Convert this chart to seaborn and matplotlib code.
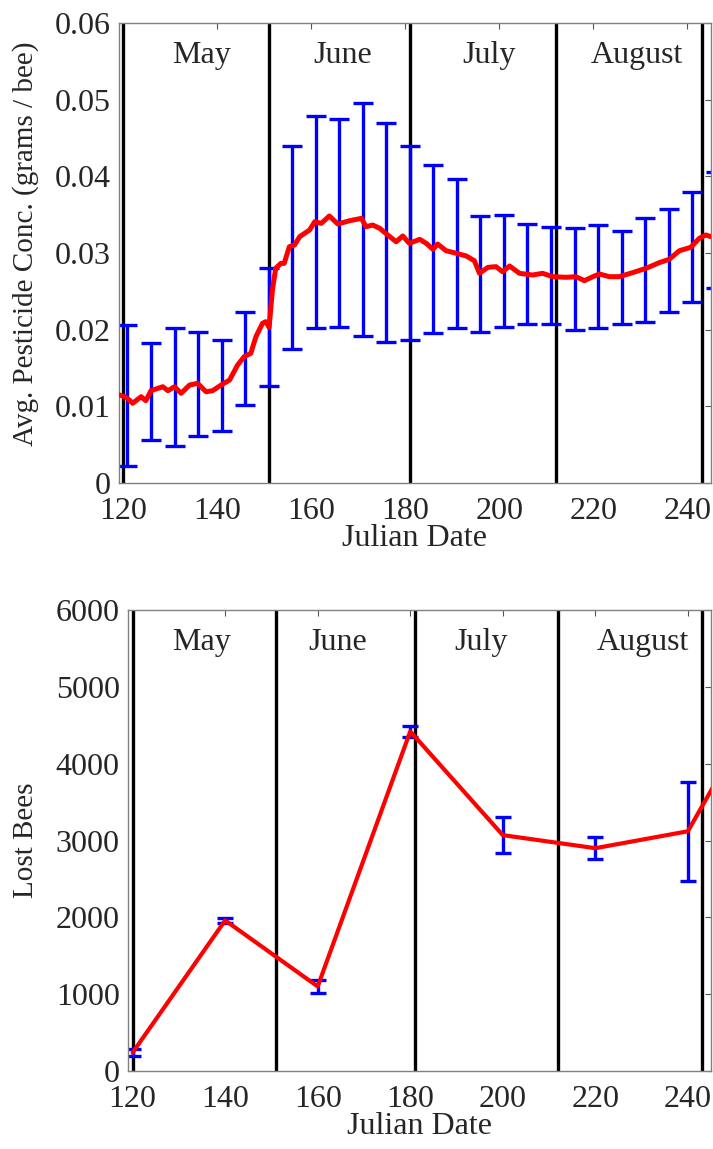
import numpy as np
import pandas as pd
import matplotlib
matplotlib.use("Agg")
import matplotlib.pyplot as plt
import seaborn as sns

# ---- data -------------------------------------------------------------
# running average of pesticide concentration (grams / bee) by Julian date
conc_day = [119.3, 120.4, 121.4, 122.1, 123.9, 124.9, 126.0, 128.5, 129.6, 131.0,
            132.4, 134.2, 135.9, 137.7, 139.1, 140.9, 142.7, 144.4, 145.8, 147.2,
            148.3, 149.7, 150.4, 151.1, 151.8, 152.5, 153.6, 154.3, 155.4, 156.5,
            157.6, 159.7, 160.8, 162.2, 163.9, 165.7, 168.2, 170.7, 171.7, 173.1,
            174.6, 176.3, 178.1, 179.5, 180.9, 183.1, 184.5, 185.9, 186.9, 188.7,
            190.9, 193.0, 194.7, 195.8, 197.6, 199.3, 200.7, 202.2, 204.3, 207.1,
            209.2, 211.4, 214.2, 216.3, 218.1, 219.9, 221.3, 223.4, 225.5, 228.3,
            231.2, 234.0, 236.1, 238.3, 240.7, 242.5, 243.9, 245.0]
conc_avg = [0.01148, 0.01126, 0.01083, 0.01040, 0.01126, 0.01074, 0.01204, 0.01256, 0.01204, 0.01256,
            0.01170, 0.01278, 0.01300, 0.01190, 0.01204, 0.01278, 0.01343, 0.01539, 0.01648, 0.01691,
            0.01909, 0.02083, 0.02104, 0.02030, 0.02517, 0.02800, 0.02865, 0.02865, 0.03082, 0.03104,
            0.03213, 0.03300, 0.03408, 0.03387, 0.03483, 0.03378, 0.03421, 0.03452, 0.03343, 0.03365,
            0.03322, 0.03235, 0.03147, 0.03222, 0.03126, 0.03178, 0.03126, 0.03048, 0.03117, 0.03030,
            0.02996, 0.02961, 0.02900, 0.02735, 0.02813, 0.02822, 0.02756, 0.02830, 0.02735, 0.02713,
            0.02735, 0.02691, 0.02683, 0.02691, 0.02639, 0.02691, 0.02726, 0.02691, 0.02691, 0.02743,
            0.02800, 0.02874, 0.02917, 0.03030, 0.03074, 0.03191, 0.03235, 0.03213]

# spread of the concentration every five days (lower / upper bound)
spread_day = [121, 126, 131, 136, 141, 146, 151, 156, 161, 166, 171, 176, 181,
              186, 191, 196, 201, 206, 211, 216, 221, 226, 231, 236, 241, 246]
spread_lo = [0.0022, 0.0056, 0.0048, 0.0061, 0.0068, 0.0102, 0.0127, 0.0175, 0.0202, 0.0203,
             0.0192, 0.0184, 0.0187, 0.0196, 0.0202, 0.0197, 0.0204, 0.0207, 0.0207, 0.0200,
             0.0202, 0.0207, 0.0210, 0.0223, 0.0236, 0.0254]
spread_hi = [0.0206, 0.0183, 0.0202, 0.0197, 0.0186, 0.0223, 0.0281, 0.0440, 0.0479, 0.0475,
             0.0496, 0.0470, 0.0440, 0.0415, 0.0397, 0.0348, 0.0350, 0.0338, 0.0334, 0.0332,
             0.0337, 0.0329, 0.0345, 0.0358, 0.0379, 0.0406]

# lost bees sampled every 20 days
lost_day = [120, 140, 160, 180, 200, 220, 240, 260]
lost_mean = [240, 1960, 1100, 4420, 3070, 2900, 3120, 5240]
lost_err = [45, 37, 90, 75, 235, 145, 645, 0]

# month boundaries and labels
month_edges = [120, 151, 181, 212, 243]
month_names = ["May", "June", "July", "August"]
month_x_top = [136.7, 166.7, 197.9, 229.3]
month_x_bot = [134.9, 164.4, 195.3, 230.2]

x_ticks = [120, 140, 160, 180, 200, 220, 240]
conc_ticks = [0, 0.01, 0.02, 0.03, 0.04, 0.05, 0.06]
conc_tick_labels = ["0", "0.01", "0.02", "0.03", "0.04", "0.05", "0.06"]
lost_ticks = [0, 1000, 2000, 3000, 4000, 5000, 6000]

# ---- style ------------------------------------------------------------
sns.set_theme(style="white")
plt.rcParams["font.family"] = ["Liberation Serif", "DejaVu Serif"]

FS = 23
FS_YLAB = 21
RED = "#ff0000"
BLUE = "#0000ff"

W, H = 713, 1149
fig = plt.figure(figsize=(W / 100, H / 100), dpi=100)
ax1 = fig.add_axes([119 / W, 1 - 483 / H, (711 - 119) / W, (483 - 23) / H])
ax2 = fig.add_axes([128 / W, 1 - 1071 / H, (711 - 128) / W, (1071 - 610) / H])


def style_axes(ax):
    for s in ax.spines.values():
        s.set_color("#808080")
        s.set_linewidth(1.0)
    ax.tick_params(direction="in", length=4, width=0.8, color="#555555",
                   top=True, right=True, labelsize=FS)
    ax.tick_params(axis="x", pad=10)
    ax.tick_params(axis="y", pad=6)
    ax.set_xticks(x_ticks)
    ax.set_xticklabels([str(t) for t in x_ticks])
    ax.set_xlabel("Julian Date", fontsize=FS, labelpad=-1)


# ---- top: pesticide concentration -------------------------------------
conc_df = pd.DataFrame({"day": conc_day, "conc": conc_avg})
spread_df = pd.DataFrame({"day": spread_day, "lo": spread_lo, "hi": spread_hi})
spread_df["mid"] = (spread_df["lo"] + spread_df["hi"]) / 2
spread_df["half"] = (spread_df["hi"] - spread_df["lo"]) / 2

for d in month_edges:
    ax1.axvline(d, color="black", lw=2.4, zorder=1)
ax1.errorbar(spread_df["day"], spread_df["mid"], yerr=spread_df["half"], fmt="none",
             ecolor=BLUE, elinewidth=2.4, capsize=7.5, capthick=2.4, zorder=2)
sns.lineplot(data=conc_df, x="day", y="conc", ax=ax1, color=RED, lw=3.6,
             zorder=3, estimator=None, sort=False)
ax1.set_xlim(119.2, 245)
ax1.set_ylim(0, 0.06)
style_axes(ax1)
ax1.set_yticks(conc_ticks)
ax1.set_yticklabels(conc_tick_labels)
ax1.set_ylabel("Avg. Pesticide Conc. (grams / bee)", fontsize=FS_YLAB)
ax1.yaxis.set_label_coords((39 - 119) / (711 - 119), 0.52)
for name, xm in zip(month_names, month_x_top):
    ax1.text(xm, 0.0558, name, ha="center", va="center", fontsize=FS)

# ---- bottom: lost bees --------------------------------------------------
lost_df = pd.DataFrame({"day": lost_day, "lost": lost_mean, "err": lost_err})
for d in month_edges:
    ax2.axvline(d, color="black", lw=2.4, zorder=1)
shown = lost_df[lost_df["err"] > 0]
ax2.errorbar(shown["day"], shown["lost"], yerr=shown["err"], fmt="none",
             ecolor=BLUE, elinewidth=2.4, capsize=6, capthick=2.4, zorder=2)
sns.lineplot(data=lost_df, x="day", y="lost", ax=ax2, color=RED, lw=3.0,
             zorder=3, estimator=None, sort=False)
ax2.set_xlim(119, 245)
ax2.set_ylim(0, 6000)
style_axes(ax2)
ax2.set_yticks(lost_ticks)
ax2.set_yticklabels([str(t) for t in lost_ticks])
ax2.set_ylabel("Lost Bees", fontsize=FS_YLAB)
ax2.yaxis.set_label_coords((39 - 128) / (711 - 128), 0.5)
for name, xm in zip(month_names, month_x_bot):
    ax2.text(xm, 5573, name, ha="center", va="center", fontsize=FS)

fig.savefig("out.png", dpi=100)
